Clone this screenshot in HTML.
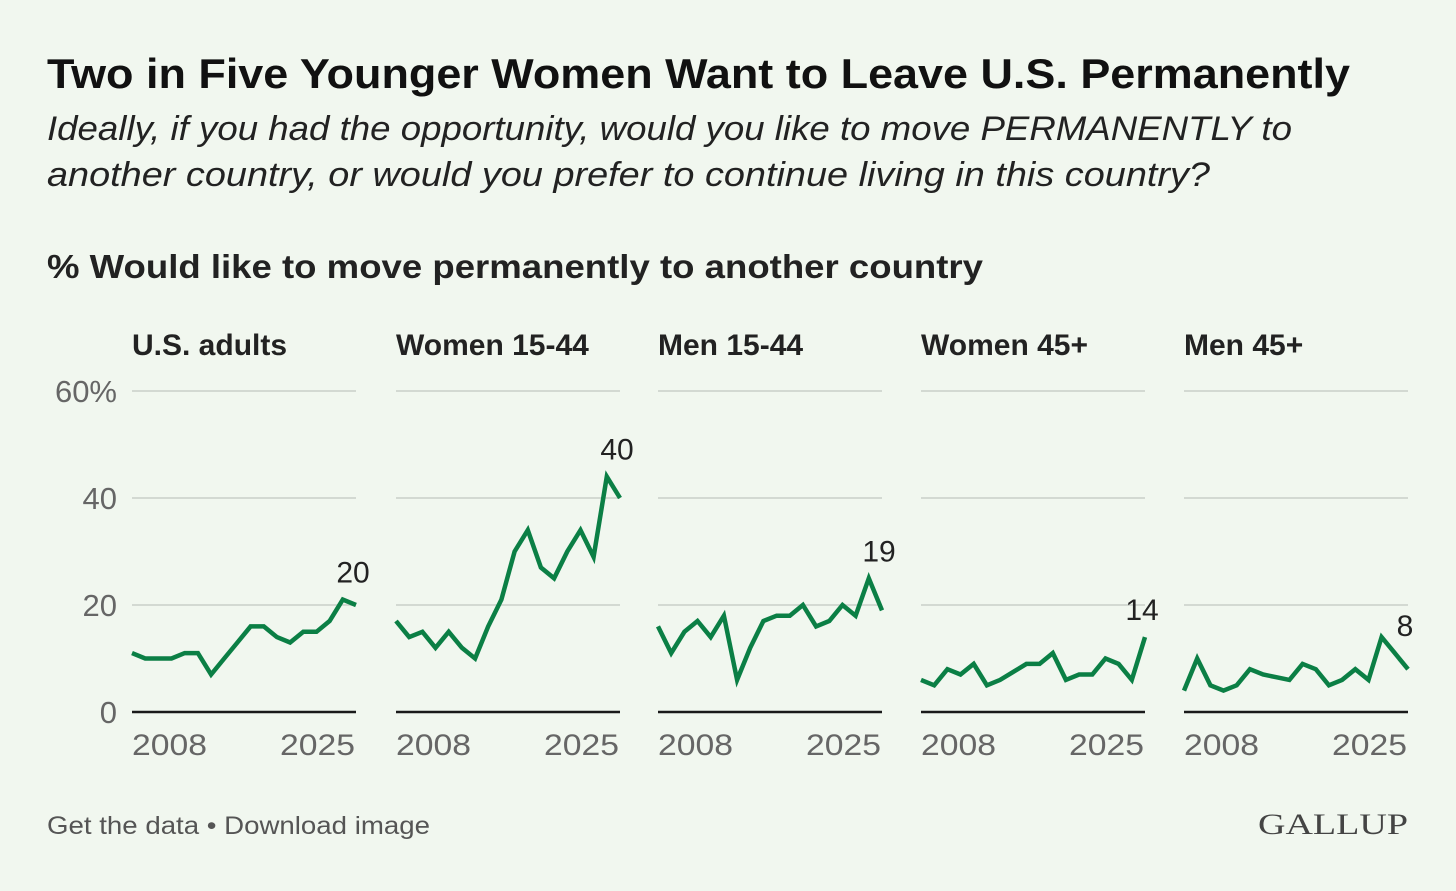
<!DOCTYPE html>
<html><head><meta charset="utf-8">
<style>
html,body{margin:0;padding:0;background:#f1f7ef;}
svg{display:block;font-family:"Liberation Sans",sans-serif;}
</style></head>
<body>
<svg id="chart" width="1456" height="891" viewBox="0 0 1456 891" xmlns="http://www.w3.org/2000/svg">
<rect width="1456" height="891" fill="#f1f7ef"/>
<text x="47" y="88" font-size="42" font-weight="bold" fill="#111" textLength="1303" lengthAdjust="spacingAndGlyphs">Two in Five Younger Women Want to Leave U.S. Permanently</text>
<text x="47" y="140" font-size="34" font-style="italic" fill="#222" textLength="1245" lengthAdjust="spacingAndGlyphs">Ideally, if you had the opportunity, would you like to move PERMANENTLY to</text>
<text x="47" y="186" font-size="34" font-style="italic" fill="#222" textLength="1163" lengthAdjust="spacingAndGlyphs">another country, or would you prefer to continue living in this country?</text>
<text x="47" y="278" font-size="33" font-weight="bold" fill="#222" textLength="936" lengthAdjust="spacingAndGlyphs">% Would like to move permanently to another country</text>
<g id="panels"></g>
<text x="47" y="834" font-size="25" fill="#555" textLength="383" lengthAdjust="spacingAndGlyphs">Get the data • Download image</text>
<text x="1408" y="834" font-size="30" font-family="Liberation Serif, serif" fill="#444" text-anchor="end" textLength="150" lengthAdjust="spacingAndGlyphs">GALLUP</text>
</svg>
<script>
const panelTitles = ["U.S. adults","Women 15-44","Men 15-44","Women 45+","Men 45+"];
const seriesAdults = [11,10,10,10,11,11,7,10,13,16,16,14,13,15,15,17,21,20];
const seriesWomenYoung = [17,14,15,12,15,12,10,16,21,30,34,27,25,30,34,29,44,40];
const seriesMenYoung = [16,11,15,17,14,18,6,12,17,18,18,20,16,17,20,18,25,19];
const seriesWomenOld = [6,5,8,7,9,5,6,7.5,9,9,11,6,7,7,10,9,6,14];
const seriesMenOld = [4,10,5,4,5,8,7,6.5,6,9,8,5,6,8,6,14,11,8];
const endLabels = ["20","40","19","14","8"];
const yTicks = [0,20,40,60];
const yTickLabels = ["0","20","40","60%"];
const xTickLabels = ["2008","2025"];
const allSeries = [seriesAdults,seriesWomenYoung,seriesMenYoung,seriesWomenOld,seriesMenOld];

const NS="http://www.w3.org/2000/svg";
const g=document.getElementById('panels');
const panelLeft=[132,396,658,921,1184];
const panelW=224;
const y0=712, yTop=391;
const yScale=v=>y0-(v/60)*(y0-yTop);
function mk(tag,attrs,txt){const e=document.createElementNS(NS,tag);for(const k in attrs)e.setAttribute(k,attrs[k]);if(txt!==undefined)e.textContent=txt;g.appendChild(e);return e;}

yTicks.forEach((t,i)=>{
  const el=mk('text',{x:117,y:yScale(t)+11,'font-size':31,fill:'#666','text-anchor':'end'},yTickLabels[i]);
  
  
});

allSeries.forEach((s,p)=>{
  const L=panelLeft[p];
  const xScale=i=>L+i*panelW/(s.length-1);
  const tt=mk('text',{x:L,y:355,'font-size':30,'font-weight':'bold',fill:'#222'},panelTitles[p]);
  
  
  yTicks.forEach(t=>{
    if(t===0)return;
    const gl=mk('line',{x1:L,x2:L+panelW,y1:yScale(t),y2:yScale(t),stroke:'#d3d9d2','stroke-width':2});
    
    
  });
  const ax=mk('line',{x1:L,x2:L+panelW,y1:y0,y2:y0,stroke:'#1a1a1a','stroke-width':2.5});
  
  
  const pts=s.map((v,i)=>xScale(i).toFixed(1)+','+yScale(v).toFixed(1)).join(' ');
  const ln=mk('polyline',{points:pts,fill:'none',stroke:'#0b7f45','stroke-width':4.5,'stroke-linejoin':'miter'});
  
  
  const mx=Math.max(s[s.length-1],s[s.length-2]);
  const lb=mk('text',{x:xScale(s.length-1)-3,y:yScale(mx)-17,'font-size':30,fill:'#222','text-anchor':'middle'},endLabels[p]);
  
  
  const x1=mk('text',{x:L,y:755,'font-size':30,fill:'#666',textLength:75,lengthAdjust:'spacingAndGlyphs'},xTickLabels[0]);
  
  
  const x2=mk('text',{x:L+panelW-76,y:755,'font-size':30,fill:'#666',textLength:75,lengthAdjust:'spacingAndGlyphs'},xTickLabels[1]);
  
  
});
</script>
</body></html>
